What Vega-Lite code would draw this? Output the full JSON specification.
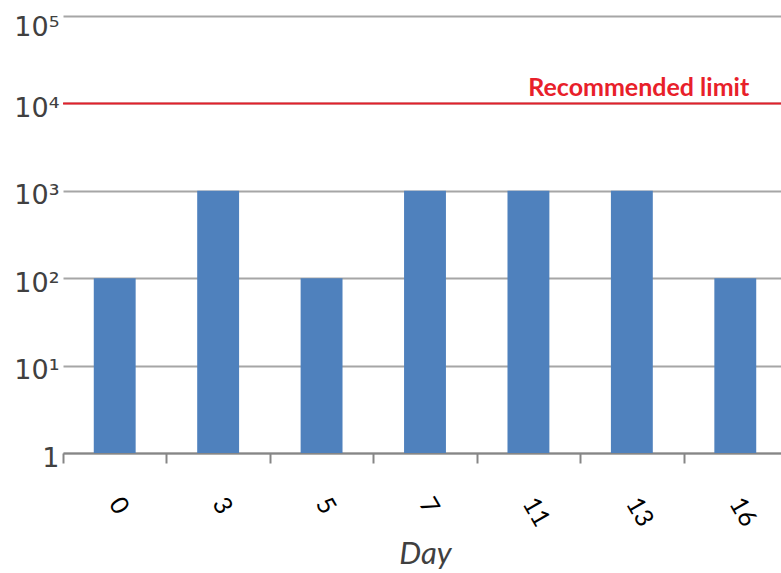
{
  "$schema": "https://vega.github.io/schema/vega-lite/v6.json",
  "width": 718,
  "height": 437,
  "autosize": {"type": "none"},
  "padding": {"left": 63, "top": 16, "right": 0, "bottom": 120},
  "background": "white",
  "config": {
    "view": {"stroke": null},
    "font": "Lato"
  },
  "data": {
    "values": [
      {"Day": "0", "Count": 100},
      {"Day": "3", "Count": 1000},
      {"Day": "5", "Count": 100},
      {"Day": "7", "Count": 1000},
      {"Day": "11", "Count": 1000},
      {"Day": "13", "Count": 1000},
      {"Day": "16", "Count": 100}
    ]
  },
  "layer": [
    {
      "mark": {"type": "bar", "color": "#4f81bd", "width": {"band": 0.405}},
      "encoding": {
        "x": {
          "field": "Day",
          "type": "ordinal",
          "sort": null,
          "scale": {"range": [0, 724], "padding": 0},
          "axis": {
            "title": "Day",
            "titleFont": "Lato",
            "titleFontStyle": "italic",
            "titleFontWeight": "normal",
            "titleFontSize": 31,
            "titleColor": "#404040",
            "titlePadding": 9,
            "labelAngle": 60,
            "labelAlign": "left",
            "labelBaseline": "middle",
            "labelFontSize": 25,
            "labelColor": "#000000",
            "labelPadding": 36,
            "tickBand": "extent",
            "tickSize": 10,
            "tickColor": "#868686",
            "tickWidth": 2,
            "domainColor": "#868686",
            "domainWidth": 2,
            "grid": false
          }
        },
        "y": {
          "field": "Count",
          "type": "quantitative",
          "scale": {"type": "log", "domain": [1, 100000]},
          "axis": {
            "title": null,
            "values": [1, 10, 100, 1000, 10000, 100000],
            "labelExpr": "datum.value == 1 ? '1\u2002' : datum.value == 10 ? '10\u00b9' : datum.value == 100 ? '10\u00b2' : datum.value == 1000 ? '10\u00b3' : datum.value == 10000 ? '10\u2074' : '10\u2075'",
            "labelFont": "DejaVu Sans",
            "labelFontSize": 27,
            "labelColor": "#404040",
            "labelPadding": 4,
            "labelOffset": {"condition": {"test": "datum.value == 100000", "value": -2}, "value": 5},
            "labelBaseline": {"condition": {"test": "datum.value == 100000", "value": "top"}, "value": "middle"},
            "domain": false,
            "ticks": false,
            "grid": true,
            "gridColor": "#a6a6a6",
            "gridWidth": 2
          }
        },
        "y2": {"datum": 1}
      }
    },
    {
      "data": {"values": [{"limit": 10000}]},
      "mark": {"type": "rule", "color": "#e3202b", "strokeWidth": 2},
      "encoding": {
        "y": {"field": "limit", "type": "quantitative"}
      }
    },
    {
      "data": {"values": [{"Day": "16", "limit": 10000, "label": "Recommended limit"}]},
      "mark": {
        "type": "text",
        "align": "right",
        "baseline": "alphabetic",
        "dx": 14,
        "dy": -7,
        "font": "Lato",
        "fontWeight": "bold",
        "fontSize": 25,
        "letterSpacing": 0.9,
        "color": "#e8202a"
      },
      "encoding": {
        "x": {"field": "Day", "type": "ordinal", "sort": null},
        "y": {"field": "limit", "type": "quantitative"},
        "text": {"field": "label"}
      }
    }
  ]
}
